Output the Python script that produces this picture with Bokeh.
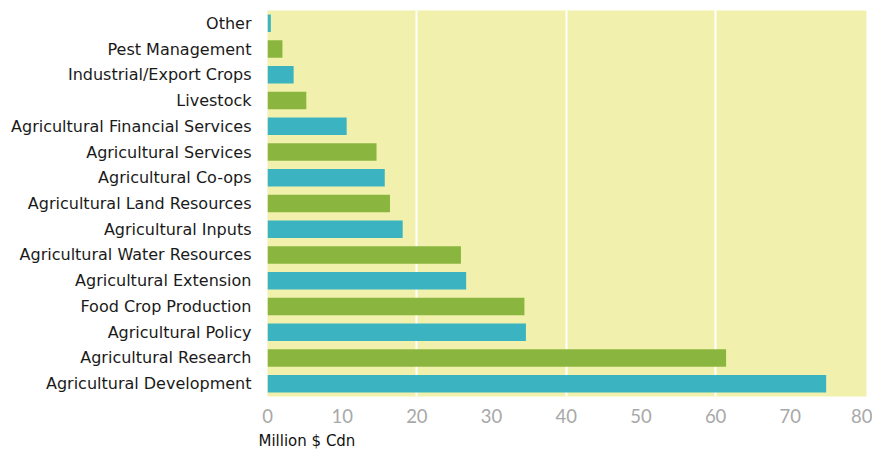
from bokeh.plotting import figure
from bokeh.models import FactorRange, Range1d, FixedTicker, Title, ColumnDataSource
from bokeh.embed import file_html
from bokeh.resources import INLINE

categories = [
    "Other", "Pest Management", "Industrial/Export Crops", "Livestock",
    "Agricultural Financial Services", "Agricultural Services", "Agricultural Co-ops",
    "Agricultural Land Resources", "Agricultural Inputs", "Agricultural Water Resources",
    "Agricultural Extension", "Food Crop Production", "Agricultural Policy",
    "Agricultural Research", "Agricultural Development",
]
values = [0.45, 2.0, 3.5, 5.2, 10.6, 14.6, 15.7, 16.4, 18.1, 25.9, 26.6, 34.4, 34.6, 61.4, 74.8]
x_ticks = [0, 10, 20, 30, 40, 50, 60, 70, 80]
grid_ticks = [20, 40, 60]

TEAL = "#3bb3c0"
GREEN = "#8ab63f"
colors = [TEAL if i % 2 == 0 else GREEN for i in range(len(categories))]

src = ColumnDataSource(dict(cat=categories, val=values, color=colors))

p = figure(
    width=872, height=453,
    y_range=FactorRange(*reversed(categories), range_padding=0),
    x_range=Range1d(0, 80.2),
    output_backend="svg", toolbar_location=None,
    min_border_left=267, min_border_right=6, min_border_top=10, min_border_bottom=50,
)
p.background_fill_color = "#f1f1ad"
p.border_fill_color = "white"
p.outline_line_color = None

p.hbar(y="cat", right="val", left=0, height=0.68, color="color", source=src, line_color=None)

p.ygrid.grid_line_color = None
p.xgrid.ticker = FixedTicker(ticks=grid_ticks)
p.xgrid.grid_line_color = "white"
p.xgrid.grid_line_width = 2

p.xaxis.ticker = FixedTicker(ticks=x_ticks)
p.xaxis.axis_line_color = None
p.xaxis.major_tick_line_color = None
p.xaxis.minor_tick_line_color = None
p.xaxis.major_label_text_font = "Lato"
p.xaxis.major_label_text_font_size = "18.5px"
p.xaxis.major_label_text_color = "#a8a8a8"
p.xaxis.major_label_standoff = 6

p.yaxis.axis_line_color = None
p.yaxis.major_tick_line_color = None
p.yaxis.minor_tick_line_color = None
p.yaxis.major_label_text_font = "DejaVu Sans"
p.yaxis.major_label_text_font_size = "16px"
p.yaxis.major_label_text_color = "#1a1a1a"
p.yaxis.major_label_standoff = 10

t = Title(text="Million $ Cdn", align="left", offset=-9,
          text_font="DejaVu Sans", text_font_size="15px", text_color="#111111",
          text_font_style="normal", standoff=8)
p.add_layout(t, "below")

open("out.html", "w").write(file_html(p, INLINE))
